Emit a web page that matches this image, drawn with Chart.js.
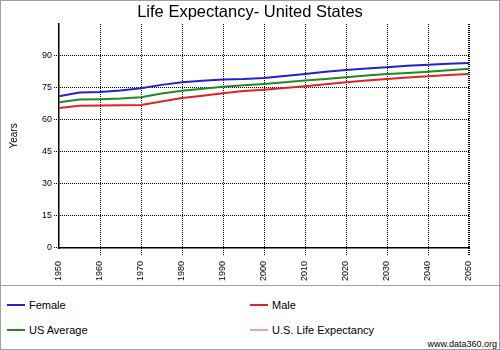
<!DOCTYPE html>
<html>
<head>
<meta charset="utf-8">
<script src="https://cdn.jsdelivr.net/npm/chart.js@4"></script>
<style>
  body { margin: 0; background: #fff; font-family: "Liberation Sans", Arial, sans-serif; }
  #frame { position: relative; width: 498px; height: 348px; border: 1px solid #a0a0a0; }
  #chartBox { position: absolute; left: 0; top: 0; width: 498px; height: 284px; }
  #legend { position: absolute; left: 0; top: 284px; width: 498px; height: 64px; border-top: 1px solid #a0a0a0; }
  .item { position: absolute; font-size: 11px; color: #000; line-height: 13px; }
  .item span.sw { position: absolute; left: 0; top: 5px; width: 18px; height: 2px; }
  .item span.tx { position: absolute; left: 22px; top: 0; white-space: nowrap; }
  #credit { position: absolute; right: 2px; bottom: 1px; font-size: 9px; color: #000; }
</style>
</head>
<body>
<div id="frame">
  <div id="chartBox"><canvas id="myChart"></canvas></div>
  <div id="legend"><div id="credit">www.data360.org</div></div>
</div>
<script>
const years = [1950, 1955, 1960, 1965, 1970, 1975, 1980, 1985, 1990, 1995, 2000,
  2005, 2010, 2015, 2020, 2025, 2030, 2035, 2040, 2045, 2050];
const female = [71.1, 72.8, 73.1, 73.8, 74.8, 76.4, 77.6, 78.3, 78.9, 79.1, 79.6,
  80.5, 81.5, 82.5, 83.4, 84.1, 84.7, 85.3, 85.8, 86.3, 86.7];
const usAverage = [68.3, 69.6, 69.7, 70.0, 70.6, 72.4, 73.6, 74.6, 75.5, 76.2, 76.8,
  77.6, 78.4, 79.2, 80.0, 80.8, 81.5, 82.0, 82.6, 83.2, 83.9];
const male = [65.6, 66.6, 66.7, 66.8, 67.0, 68.6, 70.2, 71.3, 72.5, 73.5, 74.1,
  74.9, 75.7, 76.7, 77.6, 78.4, 79.2, 79.8, 80.4, 81.0, 81.5];
const usLifeExpectancy = [];
const yTicks = [0, 15, 30, 45, 60, 75, 90];

function pts(vals) {
  return vals.map((v, i) => ({x: years[i], y: v}));
}

const data = {
  datasets: [
    {label: 'Female', data: pts(female), borderColor: '#2222cc'},
    {label: 'Male', data: pts(male), borderColor: '#e02222'},
    {label: 'US Average', data: pts(usAverage), borderColor: '#228822'},
    {label: 'U.S. Life Expectancy', data: pts(usLifeExpectancy), borderColor: '#e0a0e0'}
  ]
};
data.datasets.forEach(d => {
  d.borderWidth = 2;
  d.pointRadius = 0;
  d.tension = 0;
  d.fill = false;
});

const tickFont = {family: '"Liberation Sans", Arial, sans-serif', size: 9};
const clear = 'rgba(0,0,0,0)';

// dotted grid + dotted tick marks, drawn pixel by pixel so they stay crisp
const dotGrid = {
  id: 'dotGrid',
  beforeDatasetsDraw(chart) {
    const {ctx, chartArea: a, scales: {x, y}} = chart;
    ctx.save();
    ctx.fillStyle = '#000';
    const top = Math.round(a.top), bot = Math.round(a.bottom);
    const left = Math.round(a.left), right = Math.round(a.right);
    x.ticks.forEach(t => {
      if (t.value === 1950) return;
      const px = Math.round(x.getPixelForValue(t.value));
      const w = t.value === 2050 ? 2 : 1;
      for (let yy = top; yy < bot + 7; yy += 2) ctx.fillRect(px - (w === 2 ? 1 : 0), yy, w, 1);
    });
    yTicks.forEach(v => {
      const py = Math.round(y.getPixelForValue(v)) - 1;
      const end = v === 0 ? left : right;
      for (let xx = left - 5; xx < end; xx += 2) ctx.fillRect(xx, py, 1, 1);
    });
    ctx.restore();
  }
};

const config = {
  type: 'line',
  data: data,
  options: {
    responsive: false,
    animation: false,
    layout: {padding: 0},
    plugins: {
      legend: {display: false},
      tooltip: {enabled: false},
      title: {
        display: true,
        text: 'Life Expectancy- United States',
        color: '#000',
        font: {family: '"Liberation Sans", Arial, sans-serif', size: 16.5, weight: 'normal'},
        padding: {top: 2, bottom: 1}
      }
    },
    scales: {
      x: {
        type: 'linear',
        min: 1950,
        max: 2050,
        ticks: {
          stepSize: 10,
          minRotation: 90,
          maxRotation: 90,
          color: '#000',
          font: tickFont,
          padding: 7,
          callback: v => String(v)
        },
        grid: {color: clear, tickLength: 6},
        border: {display: true, color: '#000', width: 1.5},
        afterFit: s => { s.height = 37; }
      },
      y: {
        min: 0,
        max: 105,
        afterBuildTicks: s => { s.ticks = yTicks.concat([105]).map(v => ({value: v})); },
        ticks: {
          color: '#000',
          font: tickFont,
          padding: 2,
          callback: v => (yTicks.includes(v) ? String(v) : '')
        },
        grid: {color: clear, tickLength: 5},
        border: {display: true, color: '#000', width: 1.5},
        title: {
          display: true,
          text: 'Years',
          color: '#000',
          font: {family: '"Liberation Sans", Arial, sans-serif', size: 10},
          padding: {top: 7, bottom: 0}
        },
        afterFit: s => { s.width = 58; }
      },
      // empty right-hand spacer so the title stays centred on the whole canvas
      yRight: {
        position: 'right',
        display: true,
        grid: {display: false},
        border: {display: false},
        ticks: {display: false},
        afterFit: s => { s.width = 30; }
      }
    }
  },
  plugins: [dotGrid]
};

const canvas = document.getElementById('myChart');
canvas.width = 498;
canvas.height = 284;
const myChart = new Chart(canvas, config);

// legend below the chart, two columns
const legend = document.getElementById('legend');
const spots = [[6, 13], [249, 13], [6, 38], [249, 38]];
data.datasets.forEach((d, i) => {
  const el = document.createElement('div');
  el.className = 'item';
  el.style.left = spots[i][0] + 'px';
  el.style.top = spots[i][1] + 'px';
  el.innerHTML = '<span class="sw" style="background:' + d.borderColor + '"></span>' +
    '<span class="tx">' + d.label + '</span>';
  legend.appendChild(el);
});
</script>
</body>
</html>
